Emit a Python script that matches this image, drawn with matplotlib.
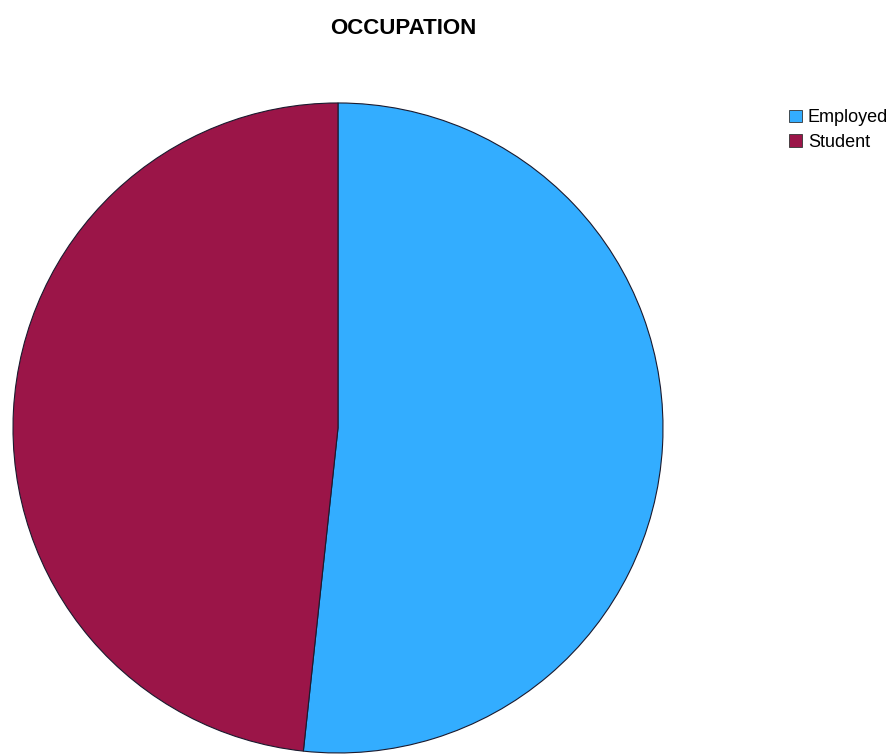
import matplotlib

matplotlib.use("Agg")
import matplotlib.pyplot as plt
from matplotlib.patches import Patch

plt.rcParams["font.family"] = ["Liberation Sans", "DejaVu Sans"]

# Occupation shares (percent)
categories = ["Employed", "Student"]
shares = [51.7, 48.3]
colors = ["#33adff", "#9b1548"]

fig = plt.figure(figsize=(8.92, 7.56), dpi=100)
ax = fig.add_axes([0.01457, 0.004, 0.7287, 0.8598])
ax.pie(
    shares,
    colors=colors,
    startangle=90,
    counterclock=False,
    wedgeprops={"edgecolor": "#1a1a2e", "linewidth": 0.8},
    radius=1.0,
)
ax.set_xlim(-1.0, 1.0)
ax.set_ylim(-1.0, 1.0)
ax.set_aspect("auto")

fig.text(0.452, 0.962, "OCCUPATION", ha="center", va="center",
         fontsize=16, fontweight="bold")

handles = [Patch(facecolor=c, edgecolor="#333333", linewidth=0.6) for c in colors]
fig.legend(handles, categories, loc="upper left", bbox_to_anchor=(0.876, 0.865),
           frameon=False, fontsize=13, handlelength=0.72, handleheight=0.72,
           handletextpad=0.35, labelspacing=0.42, borderaxespad=0)

fig.savefig("out.png", dpi=100)
